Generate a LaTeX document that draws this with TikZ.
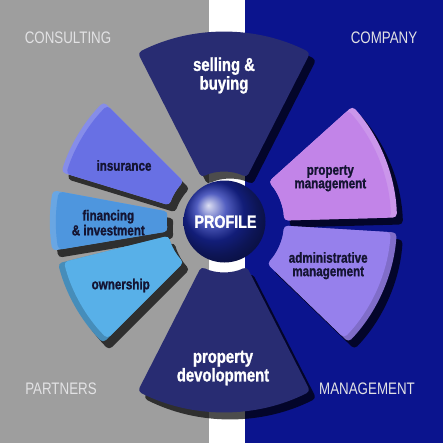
\documentclass[tikz,border=0pt]{standalone}
\usepackage{fontspec}
\usepackage{tikz}
\newfontfamily\condfont[FakeStretch=0.8,BoldFeatures={FakeBold=1.2}]{Liberation Sans}

\definecolor{grayback}{RGB}{158,158,158}
\definecolor{blueback}{RGB}{11,20,142}
\definecolor{navysect}{RGB}{40,44,114}
\definecolor{insurcol}{RGB}{104,112,228}
\definecolor{financol}{RGB}{78,150,222}
\definecolor{ownercol}{RGB}{88,176,232}
\definecolor{propcol}{RGB}{194,132,232}
\definecolor{admincol}{RGB}{150,128,236}
\definecolor{cornertext}{RGB}{226,226,228}
\definecolor{darktext}{RGB}{20,20,50}

% wedge round the sphere: start angle, end angle, inner radius, outer radius
\newcommand{\sectpath}[4]{([shift={(224,222)}]#1:#4) arc[start angle=#1,end angle=#2,radius=#4] -- ([shift={(224,222)}]#2:#3) arc[start angle=#2,end angle=#1,radius=#3] -- cycle}

\tikzset{
  cornerlabel/.style={text=cornertext, inner sep=0pt, font=\condfont\fontsize{12.5}{14}\selectfont},
  whitelabel/.style={text=white, align=center, inner sep=0pt, font=\condfont\bfseries\fontsize{13.9}{12.75}\selectfont},
  darklabel/.style={text=darktext, align=center, inner sep=0pt, font=\condfont\bfseries\fontsize{10.9}{10.1}\selectfont},
  sectshadow/.style={fill=black, opacity=0.7, shift={(6,7)}},
}

\begin{document}
\begin{tikzpicture}[x=0.75pt,y=0.75pt,yscale=-1,xscale=1]
\useasboundingbox (0,0) rectangle (443,443);

%Backgrounds
\fill[grayback] (0,0) rectangle (208.5,443);
\fill[white] (208.5,0) rectangle (244.5,443);
\fill[blueback] (244.5,0) rectangle (443,443);

%Shadows of the sectors
\fill[sectshadow, rounded corners=3] \sectpath{243}{297}{50}{190};
\fill[sectshadow, rounded corners=3] \sectpath{63}{117}{50}{190};
\fill[sectshadow, rounded corners=3] \sectpath{197}{225}{57}{170};
\fill[sectshadow, rounded corners=3] \sectpath{170.5}{190.5}{57}{174};
\fill[sectshadow, rounded corners=3] \sectpath{135}{166}{57}{171};
\fill[sectshadow, rounded corners=3] \sectpath{318}{358.5}{60}{173};
\fill[sectshadow, rounded corners=3] \sectpath{3.5}{44}{60}{173};

%Sides of the sectors
\fill[insurcol!80!white, rounded corners=3] \sectpath{197}{225}{57}{170};
\fill[financol!85!white, rounded corners=3] \sectpath{170.5}{190.5}{57}{174};
\fill[ownercol!80!black, rounded corners=3] \sectpath{135}{166}{57}{171};
\fill[propcol!85!white, rounded corners=3] \sectpath{318}{358.5}{60}{173};
\fill[admincol!85!black, rounded corners=3] \sectpath{3.5}{44}{60}{173};

%Sectors
\fill[navysect, rounded corners=3] \sectpath{243}{297}{50}{190};
\fill[navysect, rounded corners=3] \sectpath{63}{117}{50}{190};
\fill[insurcol, rounded corners=3] \sectpath{197}{225}{57}{165};
\fill[financol, rounded corners=3] \sectpath{170.5}{190.5}{57}{168};
\fill[ownercol, rounded corners=3] \sectpath{135}{166}{57}{165};
\fill[propcol, rounded corners=3] \sectpath{318}{358.5}{60}{167};
\fill[admincol, rounded corners=3] \sectpath{3.5}{44}{60}{167};

%Sphere
\shade[ball color={rgb,255:red,26;green,42;blue,172}] (224.5,221.5) circle (41);

% Text Node
\node[cornerlabel] (consulting) at (68,37.5) {CONSULTING};
% Text Node
\node[cornerlabel] (company) at (384,37.5) {COMPANY};
% Text Node
\node[cornerlabel] (partners) at (61,388.5) {PARTNERS};
% Text Node
\node[cornerlabel] (management) at (367,388.5) {MANAGEMENT};
% Text Node
\node[whitelabel] (selling) at (224,75.5) {selling \&\\buying};
% Text Node
\node[whitelabel] (develop) at (223,368) {property\\devolopment};
% Text Node
\node[darklabel] (insurance) at (124,165.5) {insurance};
% Text Node
\node[darklabel] (financing) at (108.3,222.7) {financing\\\& investment};
% Text Node
\node[darklabel] (ownership) at (120.7,285.5) {ownership};
% Text Node
\node[darklabel] (propmgmt) at (330.3,178.3) {property\\management};
% Text Node
\node[darklabel] (adminmgmt) at (328.2,265.7) {administrative\\management};
% Text Node
\node[whitelabel, font=\condfont\bfseries\fontsize{13.4}{15}\selectfont] (profile) at (225.5,221.7) {PROFILE};

\end{tikzpicture}
\end{document}
